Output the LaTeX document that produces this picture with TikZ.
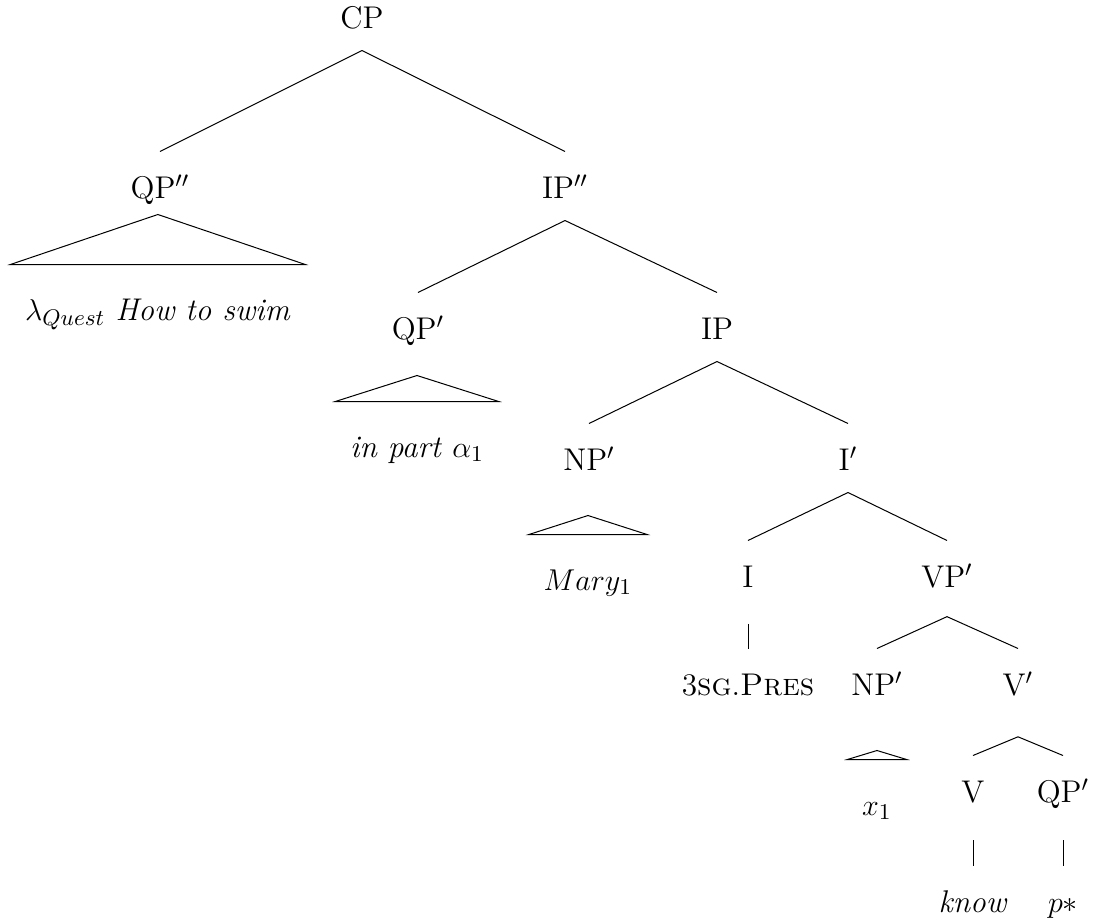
\documentclass[tikz,border=0pt]{standalone}
\usepackage{amsmath,amssymb}
\usepackage{tikz}
\usetikzlibrary{calc}
\tikzset{-,auto,thin,
    every node/.style={font=\fontsize{12.5}{15}\selectfont},
    cat/.style={anchor=base,inner sep=0pt,text height=0.644cm,text depth=0.308cm},
    roofed/.style={anchor=base,inner ysep=0pt,inner xsep=0.2cm,text height=0.77cm,text depth=0pt},
    textnode/.style={}}

\begin{document}
\begin{tikzpicture}
\useasboundingbox (0,0) rectangle (15.442,-12.908);
\node[cat] (cp)  at (5.068,-0.392) {CP};

\node[cat] (qpa) at (2.24,-2.772) {QP$''$};
\node[cat] (ipa) at (7.91,-2.772) {IP$''$};
\node[roofed] (lam) at (2.21,-4.48) {$\lambda_{Quest}$ \textit{How to swim}};

\node[cat] (qpb) at (5.852,-4.746) {QP$'$};
\node[cat] (ip)  at (10.038,-4.746) {IP};
\node[roofed] (inpart) at (5.838,-6.398) {\textit{in part} $\alpha_1$};

\node[cat] (npa)  at (8.246,-6.58) {NP$'$};
\node[cat] (ibar) at (11.872,-6.58) {I$'$};
\node[roofed] (mary) at (8.232,-8.26) {$Mary_1$};

\node[cat] (infl)  at (10.472,-8.218) {I};
\node[cat] (vpbar) at (13.258,-8.218) {VP$'$};
\node[cat] (agr)   at (10.472,-9.73) {3\textsc{sg}.\textsc{Pres}};

\node[cat] (npb)  at (12.278,-9.73) {NP$'$};
\node[cat] (vbar) at (14.252,-9.73) {V$'$};
\node[roofed] (xone) at (12.278,-11.41) {$x_1$};

\node[cat] (verb) at (13.622,-11.228) {V};
\node[cat] (qpc)  at (14.882,-11.228) {QP$'$};
\node[cat] (know)  at (13.622,-12.768) {\textit{know}};
\node[cat] (pstar) at (14.882,-12.768) {$p*$};

\path
    (cp.south)    edge (qpa.north)
    (cp.south)    edge (ipa.north)
    (ipa.south)   edge (qpb.north)
    (ipa.south)   edge (ip.north)
    (ip.south)    edge (npa.north)
    (ip.south)    edge (ibar.north)
    (ibar.south)  edge (infl.north)
    (ibar.south)  edge (vpbar.north)
    ([yshift=-0.2cm]infl.south)   edge (agr.north)
    ([yshift=-0.1cm]vpbar.south)  edge (npb.north)
    ([yshift=-0.1cm]vpbar.south)  edge (vbar.north)
    ([yshift=-0.27cm]vbar.south)  edge (verb.north)
    ([yshift=-0.27cm]vbar.south)  edge (qpc.north)
    ([yshift=-0.22cm]verb.south)  edge (know.north)
    ([yshift=-0.22cm]qpc.south)   edge (pstar.north);

% roofs over the unanalysed phrases
\draw ($(lam.north)+(0,0.70)$) -- (lam.north west) -- (lam.north east) -- cycle;
\draw ($(inpart.north)+(0,0.364)$) -- (inpart.north west) -- (inpart.north east) -- cycle;
\draw ($(mary.north)+(0,0.266)$) -- (mary.north west) -- (mary.north east) -- cycle;
\draw ($(xone.north)+(0,0.126)$) -- (xone.north west) -- (xone.north east) -- cycle;
\end{tikzpicture}
\end{document}
